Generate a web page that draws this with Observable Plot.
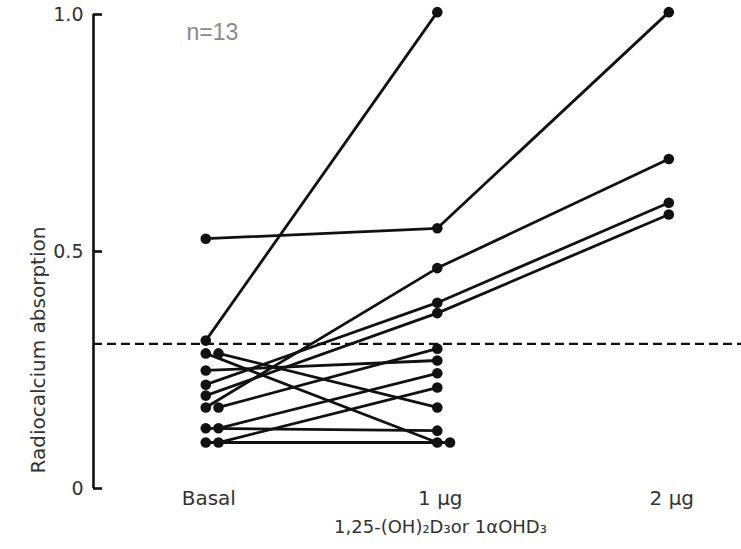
<!DOCTYPE html>
<html><head><meta charset="utf-8">
<script src="https://cdn.jsdelivr.net/npm/d3@7"></script>
<script src="https://cdn.jsdelivr.net/npm/@observablehq/plot@0.6"></script>
<style>body{margin:0;background:#fff}</style>
</head><body><div id="chart"></div>
<script>
// ---- data ----
const doseLabels = ["Basal", "1 μg", "2 μg"];
const doseTicks = [0, 1, 2];
const subjects = ["A","B","C","D","E","F","G","J","H","I","K","L","M"];
const basal = [0.527, 0.312, 0.171, 0.219, 0.196, 0.249, 0.127, 0.285, 0.097, 0.285, 0.171, 0.127, 0.097];
const dose1 = [0.549, 1.005, 0.465, 0.392, 0.370, 0.270, 0.122, 0.097, 0.097, 0.171, 0.295, 0.243, 0.213];
const dose2 = [1.005, null, 0.695, 0.603, 0.578, null, null, null, null, null, null, null, null];
const yTicks = [0, 0.5, 1.0];
const yTickLabels = ["0", "0.5", "1.0"];
const normalLimit = 0.305;
const xTitle = "1,25-(OH)₂D₃or 1αOHD₃";
const yTitle = "Radiocalcium absorption";
const note = "n=13";

// ---- build table; overlapping equal values are nudged sideways ----
const series = [basal, dose1, dose2];
const seen = series.map(() => new Map());
const rows = [];
subjects.forEach((s, i) => series.forEach((vals, d) => {
  const v = vals[i];
  if (v == null) return;
  const k = v.toFixed(3);
  const c = seen[d].get(k) || 0;
  seen[d].set(k, c + 1);
  rows.push({subject: s, dose: d, x: d + c * 0.055, value: v});
}));

const W = 741, mL = 93, mR = 0;
const xDomain = [-0.485, 2.314];
const tickLen = 9 * (xDomain[1] - xDomain[0]) / (W - mL - mR); // 9px expressed in x units
const ink = "#111";

const chart = Plot.plot({
  width: W, height: 549,
  marginLeft: mL, marginRight: mR, marginTop: 14, marginBottom: 61,
  x: {type: "linear", domain: xDomain},
  y: {domain: [0, 1]},
  style: {fontFamily: "'DejaVu Sans', sans-serif", background: "#fff", color: "#222"},
  marks: [
    Plot.ruleX([xDomain[0]], {stroke: ink, strokeWidth: 2.6}),
    // inward tick marks
    Plot.ruleY(yTicks, {x1: xDomain[0], x2: xDomain[0] + tickLen, stroke: ink, strokeWidth: 2.6}),
    // tick labels
    Plot.axisY(yTicks, {tickFormat: d => yTickLabels[yTicks.indexOf(d)], tickSize: 0, tickPadding: 10, fontSize: 19, fill: "#333", label: null}),
    Plot.axisX(doseTicks, {tickFormat: d => doseLabels[d], tickSize: 0, tickPadding: 2, fontSize: 20, dx: 3, fill: "#333", label: null}),
    Plot.ruleY([normalLimit], {stroke: ink, strokeWidth: 2.2, strokeDasharray: "9,5"}),
    Plot.line(rows, {x: "x", y: "value", z: "subject", stroke: ink, strokeWidth: 2.8}),
    Plot.dot(rows, {x: "x", y: "value", r: 5.3, fill: ink, stroke: null}),
    Plot.text([yTitle], {frameAnchor: "bottom-left", rotate: -90, textAnchor: "start", lineAnchor: "middle", dx: -55, dy: -15, fontSize: 20, fill: "#333"}),
    Plot.text([xTitle], {frameAnchor: "bottom", dx: 23, dy: 39, lineAnchor: "middle", fontSize: 18, fill: "#333"}),
    Plot.text([note], {frameAnchor: "top-left", textAnchor: "start", lineAnchor: "middle", dx: 93, dy: 18, fontSize: 23, fill: "#8a8a8a", fontFamily: "'Liberation Sans', Arial, sans-serif"})
  ]
});
document.getElementById("chart").appendChild(chart);
</script>
</body></html>
